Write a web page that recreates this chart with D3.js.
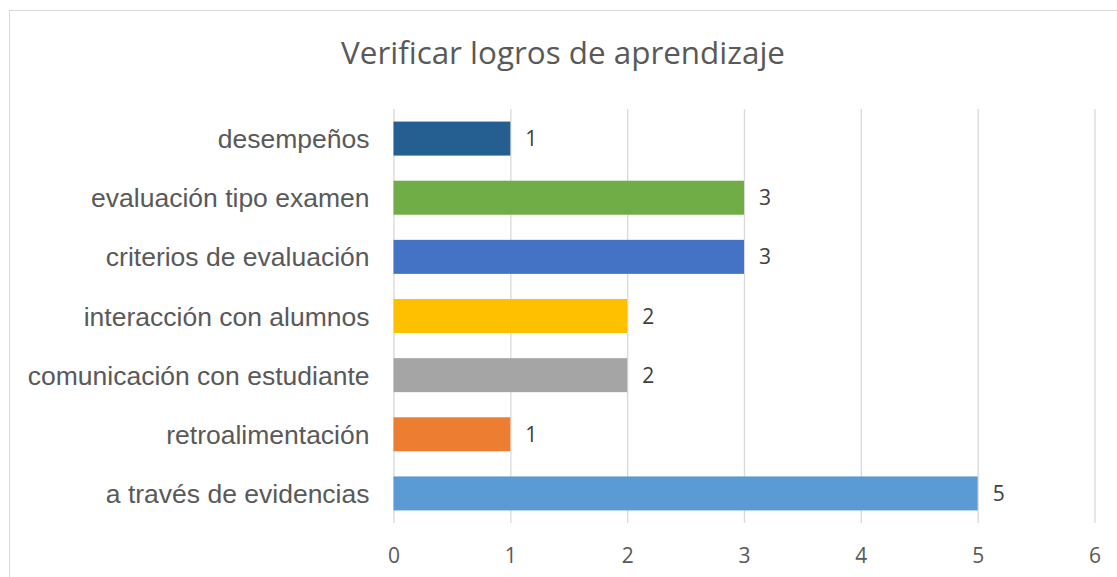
<!DOCTYPE html>
<html>
<head>
<meta charset="utf-8">
<script src="https://cdn.jsdelivr.net/npm/d3@7"></script>
<style>
    body { margin: 0; background: #fff; }
    svg { display: block; }
</style>
</head>
<body>
<svg id="chart"></svg>
<script>
// Chart data
const categories = [
    "desempeños",
    "evaluación tipo examen",
    "criterios de evaluación",
    "interacción con alumnos",
    "comunicación con estudiante",
    "retroalimentación",
    "a través de evidencias"
];
const values = [1, 3, 3, 2, 2, 1, 5];
const barColors = ['#255e91', '#70ad47', '#4472c4', '#ffc000', '#a5a5a5', '#ed7d31', '#5b9bd5'];
const xTicks = [0, 1, 2, 3, 4, 5, 6];
const title = "Verificar logros de aprendizaje";

const width = 1117;
const height = 577;
const margin = { top: 109, right: 22.5, bottom: 54, left: 393.5 };
const innerW = width - margin.left - margin.right;
const innerH = height - margin.top - margin.bottom;

const svg = d3.select("#chart")
    .attr("width", width)
    .attr("height", height);

// Outer border of the chart area
svg.append("rect")
    .attr("x", 9.5)
    .attr("y", 10.5)
    .attr("width", width + 20)
    .attr("height", height + 20)
    .attr("fill", "none")
    .attr("stroke", "#d9d9d9")
    .attr("stroke-width", 1);

// Title
svg.append("text")
    .attr("x", 563)
    .attr("y", 64)
    .attr("text-anchor", "middle")
    .style("font-family", "'Open Sans', sans-serif")
    .style("font-size", "31.4px")
    .attr("fill", "#595959")
    .text(title);

const g = svg.append("g")
    .attr("transform", `translate(${margin.left}, ${margin.top})`);

const x = d3.scaleLinear()
    .domain([0, 6])
    .range([0, innerW]);

const y = d3.scaleBand()
    .domain(categories)
    .range([0, innerH])
    .paddingInner(0.425)
    .paddingOuter(0.2125);

// Vertical gridlines + tick labels
const xAxis = g.append("g")
    .attr("transform", `translate(0, ${innerH})`)
    .call(d3.axisBottom(x).tickValues(xTicks).tickSize(-innerH).tickPadding(0).tickFormat(d3.format("d")));

xAxis.select(".domain").remove();
xAxis.selectAll(".tick line")
    .attr("stroke", "#d9d9d9")
    .attr("stroke-width", 1.3);
xAxis.selectAll(".tick text")
    .attr("y", 40)
    .attr("dy", 0)
    .style("font-family", "'Open Sans', sans-serif")
    .style("font-size", "21px")
    .attr("fill", "#595959");

// Category labels
const yAxis = g.append("g")
    .call(d3.axisLeft(y).tickSize(0).tickPadding(24));

yAxis.select(".domain").remove();
yAxis.selectAll(".tick text")
    .attr("dy", "0.36em")
    .style("font-family", "'Liberation Sans', Arial, sans-serif")
    .style("font-size", "26.5px")
    .attr("fill", "#595959");

// Bars
g.selectAll(".bar")
    .data(values)
    .enter()
    .append("rect")
    .attr("class", "bar")
    .attr("x", x(0))
    .attr("y", (d, i) => y(categories[i]))
    .attr("width", d => x(d) - x(0))
    .attr("height", y.bandwidth())
    .attr("fill", (d, i) => barColors[i]);

// Value labels
g.selectAll(".value")
    .data(values)
    .enter()
    .append("text")
    .attr("class", "value")
    .attr("x", d => x(d) + 15)
    .attr("y", (d, i) => y(categories[i]) + y.bandwidth() / 2)
    .attr("dy", "0.36em")
    .style("font-family", "'Open Sans', sans-serif")
    .style("font-size", "21px")
    .attr("fill", "#404040")
    .text(d => d);
</script>
</body>
</html>
